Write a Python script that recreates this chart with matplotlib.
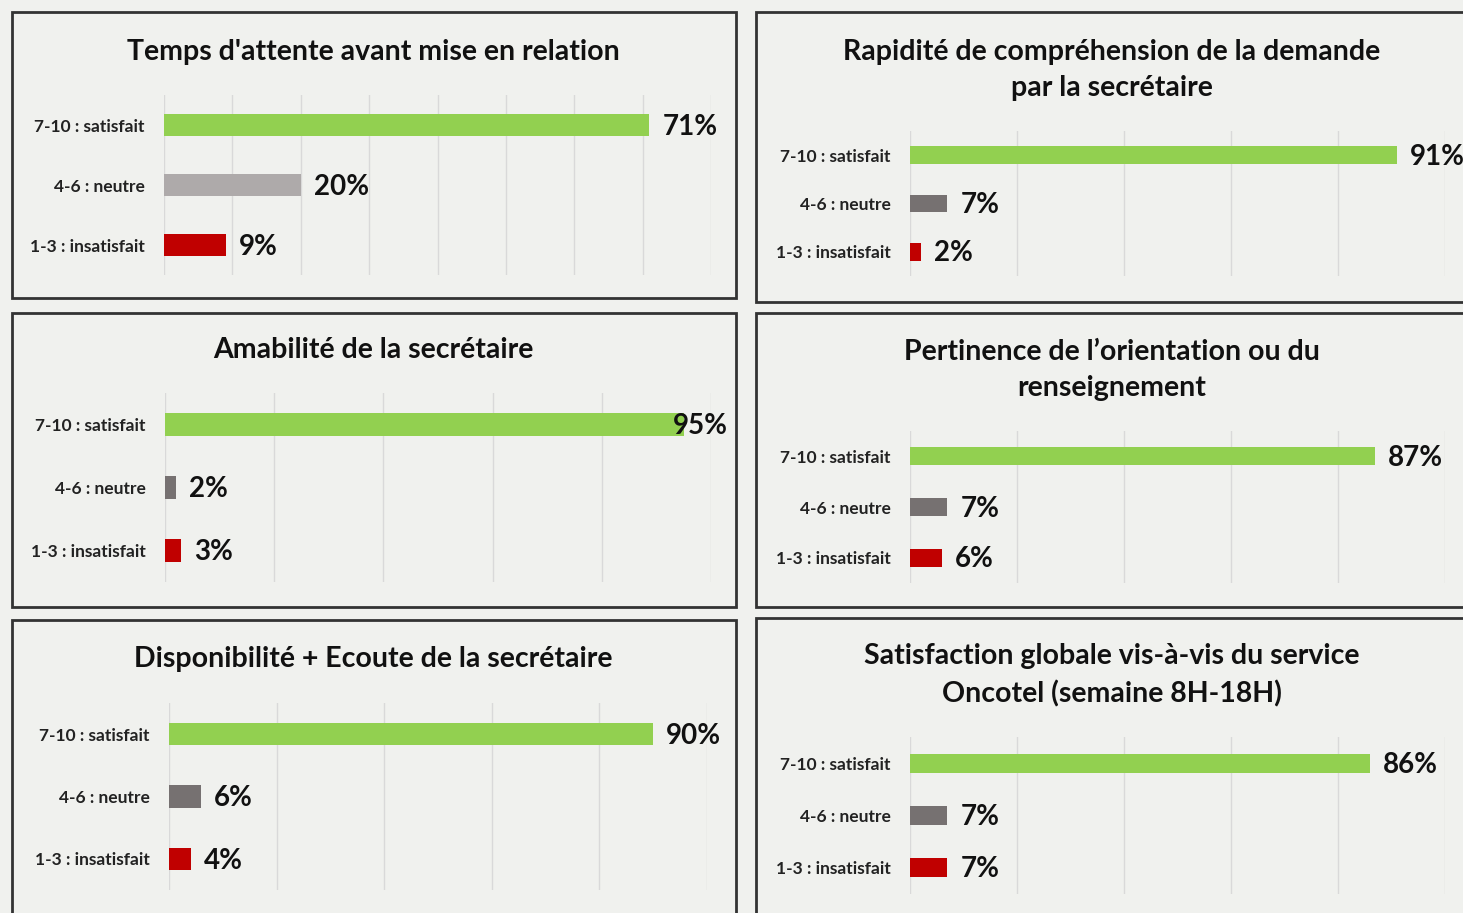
import matplotlib
matplotlib.use("Agg")
import matplotlib.pyplot as plt
from matplotlib.patches import Rectangle
import numpy as np

# categories, top to bottom
categories = ["7-10 : satisfait", "4-6 : neutre", "1-3 : insatisfait"]

titles = [
    "Temps d'attente avant mise en relation",
    "Rapidité de compréhension de la demande\npar la secrétaire",
    "Amabilité de la secrétaire",
    "Pertinence de l\u2019orientation ou du\nrenseignement",
    "Disponibilité + Ecoute de la secrétaire",
    "Satisfaction globale vis-à-vis du service\nOncotel (semaine 8H-18H)",
]
satisfait = [71, 91, 95, 87, 90, 86]
neutre = [20, 7, 2, 7, 6, 7]
insatisfait = [9, 2, 3, 6, 4, 7]
axis_max = [80, 100, 100, 100, 100, 100]
tick_step = [10, 20, 20, 20, 20, 20]

W, H = 1463, 913
BG = "#f0f1ee"
GREEN = "#92d050"
RED = "#c00000"
GRAY_LIGHT = "#aeaaaa"
GRAY_DARK = "#767171"

plt.rcParams["font.family"] = ["Lato", "DejaVu Sans"]

fig = plt.figure(figsize=(W / 100, H / 100), dpi=100)
fig.patch.set_facecolor(BG)

# layout in pixels: panel box, axes box, title centre
panel_boxes = [(12, 12, 736, 298), (756, 12, 1475, 302),
               (12, 313, 736, 607), (756, 313, 1475, 607),
               (12, 620, 736, 925), (756, 618, 1475, 925)]
axes_boxes = [(164, 95, 711, 275), (910, 131, 1445, 276),
              (165, 393, 711, 582), (910, 431, 1445, 583),
              (169, 703, 707, 890), (910, 737, 1445, 894)]
title_pos = [(373, 52), (1112, 70), (373, 350), (1112, 370), (373, 659), (1112, 675)]


def fx(x):
    return x / W


def fy(y):
    return 1 - y / H


value_labels = []
for i in range(6):
    x0, y0, x1, y1 = panel_boxes[i]
    fig.add_artist(Rectangle((fx(x0), fy(y1)), fx(x1 - x0), (y1 - y0) / H,
                             transform=fig.transFigure, facecolor=BG,
                             edgecolor="#333333", linewidth=2, zorder=0))

    ax0, ay0, ax1, ay1 = axes_boxes[i]
    ax = fig.add_axes([fx(ax0), fy(ay1), fx(ax1 - ax0), (ay1 - ay0) / H])
    ax.set_facecolor("none")

    vals = [satisfait[i], neutre[i], insatisfait[i]]
    gray = GRAY_LIGHT if i == 0 else GRAY_DARK
    colors = [GREEN, gray, RED]
    y = np.arange(3)
    ax.barh(y, vals, height=0.36, color=colors, zorder=2)

    for yy, v in zip(y, vals):
        t = ax.text(v + axis_max[i] * 0.024, yy + 0.03, f"{v}%", va="center",
                    ha="left", fontsize=20, fontweight="bold", color="#111111",
                    zorder=3, clip_on=False)
        value_labels.append((t, x1 - 8))

    ax.set_xlim(0, axis_max[i])
    ax.set_ylim(2.5, -0.5)
    ax.set_xticks(np.arange(0, axis_max[i] + 1, tick_step[i]))
    ax.set_xticklabels([])
    ax.tick_params(axis="x", length=0)
    ax.grid(axis="x", color="#d9d9d9", linewidth=1, zorder=0)
    ax.set_axisbelow(True)
    ax.set_yticks(y)
    ax.set_yticklabels(categories, fontsize=12.5, fontweight="bold", color="#222222")
    ax.tick_params(axis="y", length=0, pad=14)
    for s in ax.spines.values():
        s.set_visible(False)

    tx, ty = title_pos[i]
    fig.text(fx(tx), fy(ty), titles[i], ha="center", va="center",
             fontsize=20.5, fontweight="bold", color="#111111", linespacing=1.5)

# keep value labels inside their panel, as the spreadsheet does
fig.canvas.draw()
renderer = fig.canvas.get_renderer()
for t, right_px in value_labels:
    bb = t.get_window_extent(renderer)
    if bb.x1 > right_px:
        shift = bb.x1 - right_px
        ax = t.axes
        x_disp, y_disp = ax.transData.transform(t.get_position())
        new_x, _ = ax.transData.inverted().transform((x_disp - shift, y_disp))
        t.set_x(new_x)

fig.savefig("out.png", dpi=100, facecolor=BG)
